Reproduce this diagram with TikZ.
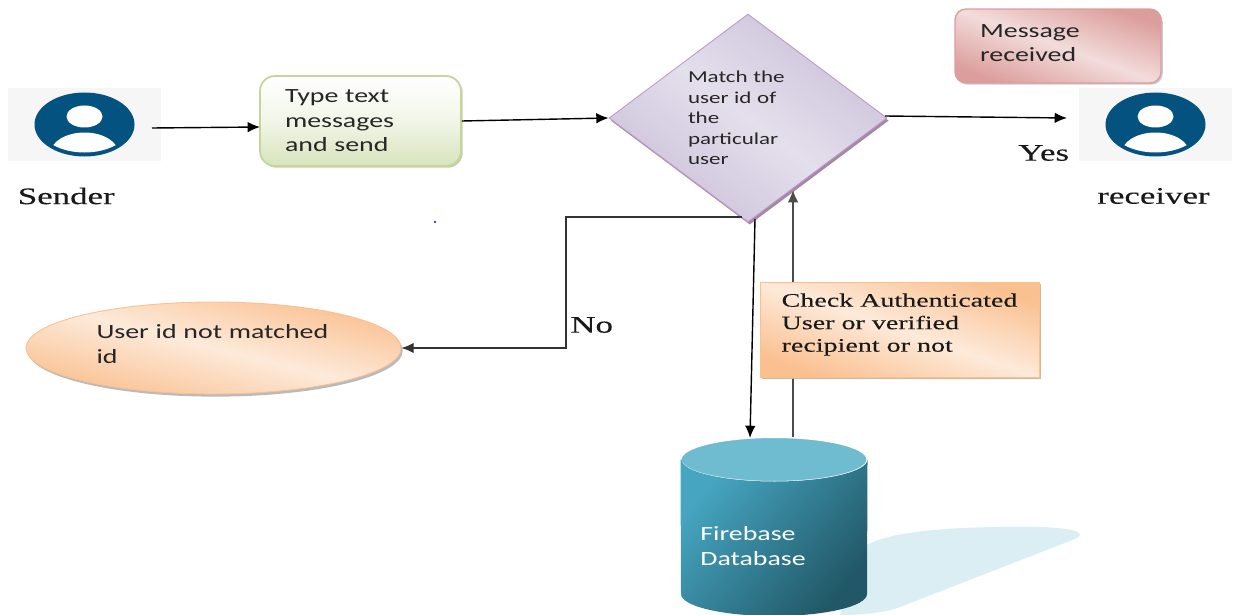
\documentclass[tikz,border=0pt]{standalone}
\usepackage{fontspec}
\usepackage{tikz}
\usetikzlibrary{calc,shapes,shadows,arrows.meta}
\newfontfamily\boxfont[FakeStretch=1.38]{Carlito}
\newfontfamily\labelfont[FakeStretch=1.47,FakeBold=0.15]{Liberation Serif}
\definecolor{iconblue}{HTML}{04527F}
\definecolor{icongray}{HTML}{F6F6F6}
\definecolor{dbtop}{HTML}{6FBCD1}
\definecolor{dbshadow}{HTML}{DBEEF4}
\definecolor{dblight}{HTML}{46A6C2}
\definecolor{dbdark}{HTML}{215766}
\definecolor{typeline}{HTML}{C3D69B}
\definecolor{typefill}{HTML}{D7E4BC}
\definecolor{matchdark}{HTML}{CCC1DA}
\definecolor{matchlight}{HTML}{E4DFEC}
\definecolor{msgdark}{HTML}{DC9E9C}
\definecolor{msglight}{HTML}{F2DCDB}
\definecolor{orangedark}{HTML}{FAC090}
\definecolor{orangelight}{HTML}{FDEADA}
\tikzset{
  usericon/.style={rectangle, fill=icongray, minimum width=3.06cm, minimum height=1.46cm, inner sep=0pt,
    path picture={
      \fill [iconblue] (path picture bounding box.center) ellipse [x radius=50, y radius=32];
      \fill [white] ($(path picture bounding box.center)+(0,-8)$) ellipse [x radius=18, y radius=11];
      \begin{scope}
        \clip (path picture bounding box.center) ellipse [x radius=46, y radius=28];
        \fill [white] ($(path picture bounding box.center)+(0,29)$) ellipse [x radius=34, y radius=21];
      \end{scope}
    }},
  softfill/.style n args={3}{top color=#1, bottom color=#1, middle color=#2, shading angle=#3},
  boxtext/.style={font=\boxfont\fontsize{11.5pt}{13.9pt}\selectfont, text=black!85, align=left},
  serif/.style={font=\labelfont\fontsize{13.5pt}{15pt}\selectfont, text=black!90, inner sep=0pt},
  arrowline/.style={draw, -{Latex[length=7pt,width=6pt]}, thick}
}
\begin{document}
\begin{tikzpicture}[x=0.02cm, y=-0.02cm]
    \useasboundingbox (0,0) rectangle (1237,615);
    % Shadow of the database
    \fill [dbshadow] (860,550) .. controls (880,530) and (960,526) .. (1040,527) .. controls (1075,528) and (1088,533) .. (1075,539) -- (900,607) .. controls (885,613) and (860,615) .. (840,615) -- cycle;
    % Place nodes
    \node [usericon] (sender) at (84.5,124.5) {};
    \node [usericon] (receiver) at (1155.5,124.5) {};
    \node [serif, anchor=west] (senderlabel) at (17.5,196) {Sender};
    \node [serif, anchor=west] (receiverlabel) at (1097,196) {receiver};
    \node [rectangle, rounded corners=0.3cm, draw=typeline, line width=1pt, top color=white, bottom color=typefill, middle color=typefill!35, drop shadow={shadow xshift=1pt, shadow yshift=-1pt, fill=typeline!80!gray, opacity=0.8}, boxtext, text width=3.02cm, inner xsep=0.5cm, minimum height=1.8cm] (typebox) at (360.5,121) {Type text\\messages\\and send};
    \node [diamond, aspect=1.34, draw=matchdark!80!violet, line width=0.5pt, softfill={matchdark}{matchlight}{-37}, drop shadow={shadow xshift=1pt, shadow yshift=-1.5pt, fill=violet!35!gray, opacity=0.7}, minimum width=5.56cm, minimum height=4.16cm, inner sep=0pt, text width=2.4cm, align=left, font=\boxfont\fontsize{9.5pt}{11.6pt}\selectfont, text=black!85] (match) at (748,118) {Match the\\user id of\\the\\particular\\user};
    \node [rectangle, rounded corners=0.22cm, draw=msgdark, line width=0.8pt, softfill={msgdark}{msglight}{-20}, drop shadow={shadow xshift=1pt, shadow yshift=-1pt, fill=gray!50, opacity=0.8}, boxtext, text width=3.12cm, inner xsep=0.5cm, minimum height=1.48cm] (received) at (1058,46) {Message\\received\\[-10.5pt]\mbox{}};
    \node [ellipse, draw=orangedark, line width=0.5pt, softfill={orangedark}{orangelight}{-14}, drop shadow={shadow xshift=1pt, shadow yshift=-1.5pt, fill=gray!60, opacity=0.9}, boxtext, text width=4.68cm, minimum width=7.5cm, minimum height=1.84cm, inner sep=0pt] (notmatched) at (213.5,348) {User id not matched\\id\\[-9.4pt]\mbox{}};
    \node [ellipse, fill=dbtop, draw=white, line width=0.6pt, minimum width=3.72cm, minimum height=0.88cm, inner sep=0pt] (firebase) at (774,459.5) {};
    \begin{scope}
    \path [left color=dblight, right color=dbdark, shading angle=50] (firebase.west) -- (681,594) arc [start angle=180, end angle=0, x radius=93, y radius=22] -- (firebase.east) arc [start angle=0, end angle=180, x radius=93, y radius=22] -- cycle;
    \end{scope}
    \node [boxtext, text=white, inner sep=0pt, anchor=west] (firebaselabel) at (700,546) {Firebase\\Database};
    \node [circle, fill=blue, inner sep=0pt, minimum size=1.2pt] (dot) at (435,222) {};
    % Free ends of the connectors
    \coordinate (senderout) at (152,128);
    \coordinate (typein) at (260,127);
    \coordinate (yesstart) at (885,116);
    \coordinate (yesend) at (1067,118);
    \coordinate (nostart) at (742,217);
    \coordinate (nobend) at (566,348);
    \coordinate (downstart) at (755,219);
    \coordinate (downend) at (750,438);
    \coordinate (upstart) at (793,437);
    \coordinate (upend) at (793,190);
    % Connectors
    \path [arrowline] (senderout) -- (typein);
    \path [arrowline] (typebox.east) -- (match.west);
    \path [arrowline] (yesstart) -- (yesend);
    \path [arrowline, black!80] (nostart) -| (nobend) -- (notmatched.east);
    \path [arrowline] (downstart) -- (downend);
    \path [arrowline, black!70, line width=1.1pt] (upstart) -- (upend);
    % Labels of the branches
    \node [serif, anchor=west] (yes) at (1018,153) {Yes};
    \node [serif, anchor=west] (no) at (570,325) {No};
    \node [rectangle, draw=orangedark, line width=0.5pt, softfill={orangedark}{orangelight}{-19}, drop shadow={shadow xshift=1pt, shadow yshift=-1pt, fill=orangedark!70!gray, opacity=0.9}, font=\labelfont\fontsize{10.85pt}{12.8pt}\selectfont, text=black!90, align=left, minimum width=5.58cm, minimum height=1.9cm] (check) at (899.5,329.5) {Check Authenticated\\User or verified\\recipient or not\\[-4.9pt]\mbox{}};
\end{tikzpicture}
\end{document}
